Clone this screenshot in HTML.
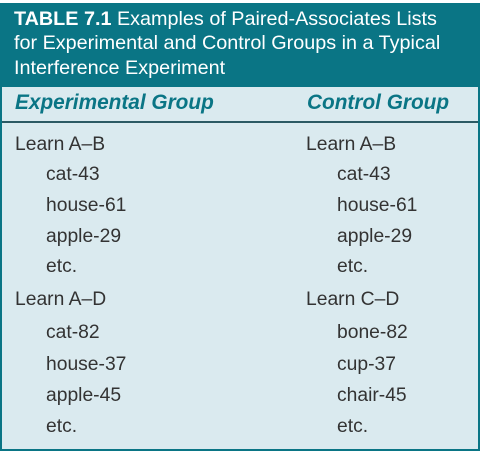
<!DOCTYPE html>
<html><head><meta charset="utf-8"><style>
body{margin:0;width:480px;height:453px;background:#fff;overflow:hidden;font-family:"Liberation Sans",sans-serif;}
#tbl{position:absolute;left:0;top:3px;width:476px;height:446px;border:2px solid #0a7585;border-top:none;background:#daeaef;}
#hdr{position:absolute;left:0;top:0;width:476px;height:84px;background:#0a7585;color:#fff;}
.tl{position:absolute;left:14px;font-size:19.8px;white-space:nowrap;}
#sub{position:absolute;left:0;top:84px;width:476px;height:34px;border-bottom:2px solid #2c5a64;}
.sh{position:absolute;top:91px;font-size:20.8px;font-weight:bold;font-style:italic;color:#0a7585;}
.t{position:absolute;font-size:19.3px;color:#333;white-space:nowrap;}
</style></head><body>
<div id="tbl">
<div id="hdr"></div>
<div id="sub"></div>
</div>
<div class="tl" style="top:8px;color:#fff"><b>TABLE 7.1</b> Examples of Paired-Associates Lists</div>
<div class="tl" style="top:32px;color:#fff">for Experimental and Control Groups in a Typical</div>
<div class="tl" style="top:57px;color:#fff">Interference Experiment</div>
<div class="sh" style="left:15px">Experimental Group</div>
<div class="sh" style="left:307px">Control Group</div>
<div id="rows"></div>
<script>
const left=["Learn A–B","cat-43","house-61","apple-29","etc.","Learn A–D","cat-82","house-37","apple-45","etc."];
const right=["Learn A–B","cat-43","house-61","apple-29","etc.","Learn C–D","bone-82","cup-37","chair-45","etc."];
const ys=[134,164,195,226,256,289,322,354,385,416];
const r=document.getElementById('rows');
function add(txt,x,y,name){const d=document.createElement('div');d.className='t';d.textContent=txt;d.style.left=x+'px';d.style.top=y+'px';


r.appendChild(d);}
left.forEach((t,i)=>{const ind=(i%5)!==0;add(t,ind?46:15,ys[i],'experimental-item');});
right.forEach((t,i)=>{const ind=(i%5)!==0;add(t,ind?337:306,ys[i],'control-item');});
</script>
</body></html>
